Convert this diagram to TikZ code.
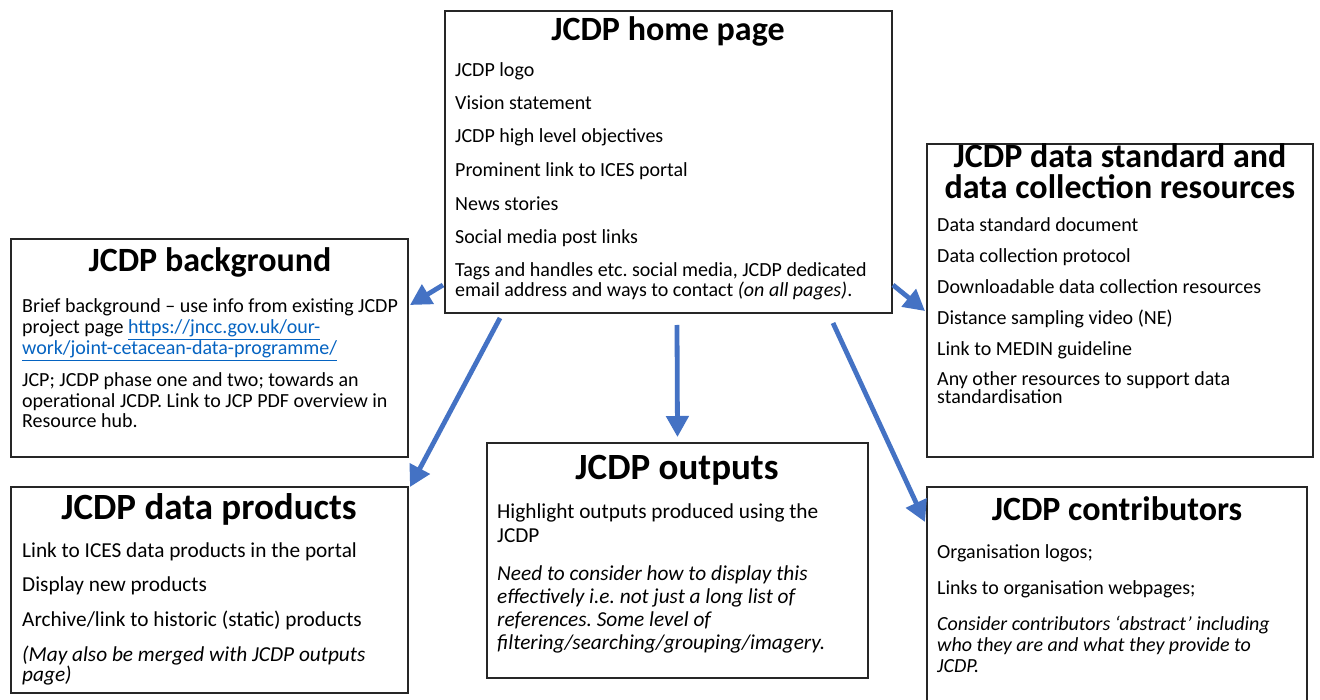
\documentclass[tikz,border=0pt]{standalone}
\usepackage{fontspec}
\setmainfont{Carlito}
\usetikzlibrary{arrows.meta,calc}
\definecolor{arrowblue}{HTML}{4472C4}
\definecolor{linkblue}{HTML}{0563C1}
\definecolor{boxline}{HTML}{262626}
\newcommand{\lnk}[1]{\textcolor{linkblue}{\underline{#1}}}
\tikzset{
  box/.style={draw=boxline, line width=1.2pt, inner sep=0pt, outer sep=0pt, fill=white},
  ttl/.style={anchor=base, inner sep=0pt, font=\fontsize{34}{32}\selectfont\bfseries},
  ttlb/.style={anchor=base, inner sep=0pt, font=\fontsize{37}{35}\selectfont\bfseries},
  bt/.style={anchor=base west, inner sep=0pt, font=\fontsize{20}{20}\selectfont},
  btb/.style={anchor=base west, inner sep=0pt, font=\fontsize{21.3}{21}\selectfont},
  arr/.style={draw=arrowblue, line width=4.8pt, -{Triangle[length=21pt,width=22pt]}}
}
\frenchspacing
\begin{document}
\begin{tikzpicture}[x=1pt,y=-1pt]
\useasboundingbox (0,0) rectangle (1320,700);
\fill[white] (0,0) rectangle (1320,700);

% boxes
\node[box, minimum width=447, minimum height=302] (home) at (668.5,162) {};
\node[box, minimum width=397, minimum height=218] (bg) at (209.5,348) {};
\node[box, minimum width=386, minimum height=313] (std) at (1120,300.5) {};
\node[box, minimum width=397, minimum height=206] (dp) at (209.5,590) {};
\node[box, minimum width=381, minimum height=235] (out) at (677.5,560.5) {};
\node[box, minimum width=380, minimum height=240] (con) at (1117,607) {};

% home page
\node[ttl] (hT) at (668,41) {JCDP home page};
\node[bt] (h1) at (455,77) {JCDP logo};
\node[bt] (h2) at (455,110) {Vision statement};
\node[bt] (h3) at (455,143) {JCDP high level objectives};
\node[bt] (h4) at (455,177) {Prominent link to ICES portal};
\node[bt] (h5) at (455,211) {News stories};
\node[bt] (h6) at (455,244) {Social media post links};
\node[bt] (h7) at (455,277) {Tags and handles etc. social media, JCDP dedicated};
\node[bt] (h8) at (455,297) {email address and ways to contact \textit{(on all pages)}.};

% background
\node[ttl] (bT) at (210,272) {JCDP background};
\node[bt] (b1) at (22,313) {Brief background – use info from existing JCDP};
\node[bt] (b2) at (22,334) {project page \lnk{https://jncc.gov.uk/our-}};
\node[bt] (b3) at (22,355) {\lnk{work/joint-cetacean-data-programme/}};
\node[bt] (b4) at (22,387) {JCP; JCDP phase one and two; towards an};
\node[bt] (b5) at (22,407) {operational JCDP. Link to JCP PDF overview in};
\node[bt] (b6) at (22,428) {Resource hub.};

% data standard
\node[ttl] (sT1) at (1120,168) {JCDP data standard and};
\node[ttl] (sT2) at (1120,199) {data collection resources};
\node[bt] (s1) at (937,232) {Data standard document};
\node[bt] (s2) at (937,263) {Data collection protocol};
\node[bt] (s3) at (937,294) {Downloadable data collection resources};
\node[bt] (s4) at (937,325) {Distance sampling video (NE)};
\node[bt] (s5) at (937,356) {Link to MEDIN guideline};
\node[bt] (s6) at (937,386) {Any other resources to support data};
\node[bt] (s7) at (937,404) {standardisation};

% data products
\node[ttlb] (dT) at (209,519) {JCDP data products};
\node[btb] (d1) at (22,557) {Link to ICES data products in the portal};
\node[btb] (d2) at (22,591) {Display new products};
\node[btb] (d3) at (22,626) {Archive/link to historic (static) products};
\node[btb] (d4) at (22,661) {\textit{(May also be merged with JCDP outputs}};
\node[btb] (d5) at (22,681) {\textit{page)}};

% outputs
\node[ttlb] (oT) at (677,479) {JCDP outputs};
\node[btb] (o1) at (497,518) {Highlight outputs produced using the};
\node[btb] (o2) at (497,542) {JCDP};
\node[btb] (o3) at (497,580) {\textit{Need to consider how to display this}};
\node[btb] (o4) at (497,603) {\textit{effectively i.e. not just a long list of}};
\node[btb] (o5) at (497,626) {\textit{references. Some level of}};
\node[btb] (o6) at (497,649) {\textit{filtering/searching/grouping/imagery.}};

% contributors
\node[ttl] (cT) at (1117,520) {JCDP contributors};
\node[bt] (c1) at (937,558) {Organisation logos;};
\node[bt] (c2) at (937,594) {Links to organisation webpages;};
\node[bt] (c3) at (937,630) {\textit{Consider contributors ‘abstract’ including}};
\node[bt] (c4) at (937,651) {\textit{who they are and what they provide to}};
\node[bt] (c5) at (937,672) {\textit{JCDP.}};

% arrows
\draw[arr] ($(home.south west)+(-2,-28)$) -- ($(bg.north east)+(2,66)$);
\draw[arr] ($(home.south west)+(55,5)$) -- ($(dp.north east)+(2,0)$);
\draw[arr] ($(home.south)+(8.5,12)$) -- ($(out.north)+(0,-6)$);
\draw[arr] ($(home.south east)+(-59,10)$) -- ($(con.north west)+(-2,35)$);
\draw[arr] ($(home.south east)+(1,-28)$) -- ($(std.south west)+(-2,-146)$);
\end{tikzpicture}
\end{document}
